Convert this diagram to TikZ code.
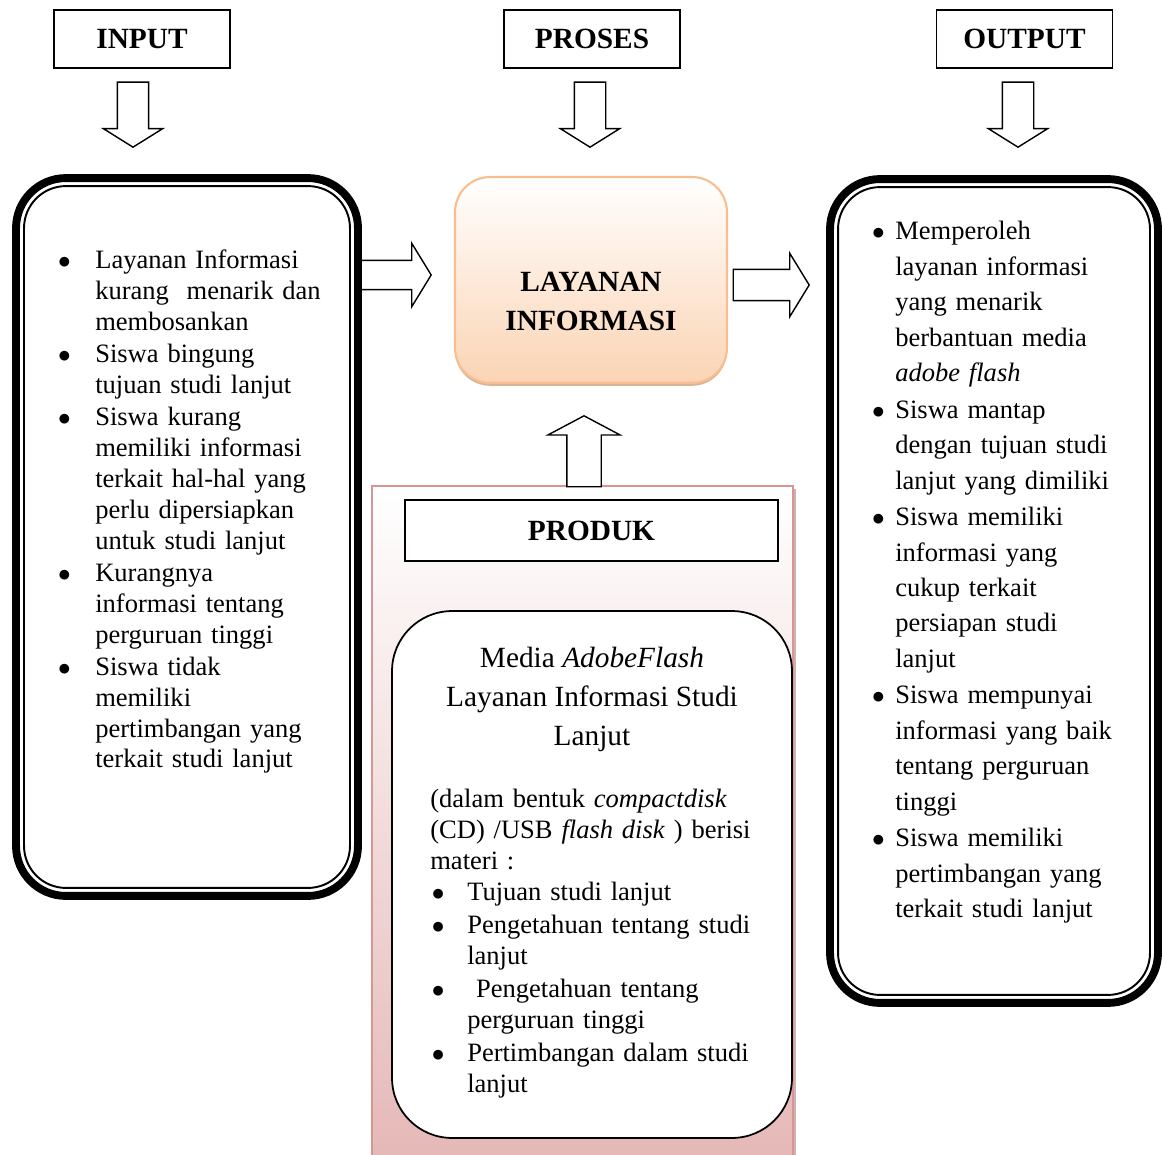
\documentclass[tikz,border=0pt]{standalone}
\usepackage{fontspec}
\setmainfont{Liberation Serif}
\usepackage{enumitem}
\usepackage{tikz}
\usetikzlibrary{shapes.arrows,shadows,positioning}
\definecolor{peach}{HTML}{FBD4B4}
\definecolor{peachline}{HTML}{F9BE8F}
\definecolor{peachshadow}{HTML}{C9A27E}
\definecolor{rose}{HTML}{E5B8B7}
\definecolor{roseline}{HTML}{D99594}
\newlist{pointlist}{itemize}{1}
\setlist[pointlist]{label=$\bullet$,topsep=0pt,partopsep=0pt,parsep=0pt,itemsep=1pt}
\tikzset{
  headbox/.style={draw,line width=0.9pt,minimum width=3.52cm,minimum height=1.16cm,
    font=\fontsize{16.7}{20}\selectfont\bfseries},
  hollow/.style={single arrow,draw,line width=0.8pt,fill=white,anchor=tip},
  framethick/.style={draw,line width=4.5pt,rounded corners=1.0cm},
  framethin/.style={draw,fill=white,line width=1.1pt,rounded corners=0.84cm},
  listtext/.style={anchor=north west,inner sep=0pt,align=left,
    font=\fontsize{15.1}{17.6}\selectfont}
}
\begin{document}
\begin{tikzpicture}[x=0.02cm,y=-0.02cm]
  \useasboundingbox (0,0) rectangle (1162,1155);
  % labels on top
  \node[headbox] (inlbl) at (142,39) {INPUT};
  \node[headbox] (proslbl) at (592,39) {PROSES};
  \node[headbox] (outlbl) at (1024.5,39) {OUTPUT};
  \node[hollow,shape border rotate=270,inner sep=0.3cm,minimum height=1.3cm,
    single arrow head extend=0.28cm,single arrow tip angle=116] (downin) at (133,148) {};
  \node[hollow,shape border rotate=270,inner sep=0.3cm,minimum height=1.3cm,
    single arrow head extend=0.28cm,single arrow tip angle=116] (downpros) at (590,148) {};
  \node[hollow,shape border rotate=270,inner sep=0.3cm,minimum height=1.3cm,
    single arrow head extend=0.28cm,single arrow tip angle=116] (downout) at (1018,148) {};

  % product panel
  \node[draw=roseline,line width=1.1pt,top color=white,bottom color=rose,
    drop shadow={shadow xshift=1.5pt,shadow yshift=-1.5pt,fill=roseline!70!black,opacity=.5},
    minimum width=8.42cm,minimum height=13.48cm] (panel) at (582.5,823) {};
  \node[hollow,shape border rotate=90,inner sep=0.33cm,minimum height=1.42cm,
    single arrow head extend=0.38cm,single arrow tip angle=124] (upprod) at (584,415) {};
  \node[draw,fill=white,line width=0.9pt,minimum width=7.46cm,minimum height=1.22cm,
    font=\fontsize{16.7}{20}\selectfont\bfseries] (produk) at (591.5,530.5) {PRODUK};
  \node[draw,fill=white,line width=1pt,rounded corners=1.2cm,
    minimum width=8.0cm,minimum height=10.54cm] (media) at (592,874.5) {};
  \node[anchor=north,inner sep=0pt,align=center,
    font=\fontsize{16.7}{22.2}\selectfont] (mediatitle) at (592,647)
    {Media \textit{AdobeFlash}\\Layanan Informasi Studi\\Lanjut};
  \node[listtext,text width=7.0cm] (mediatext) at (430,789) {%
    (dalam bentuk \textit{compactdisk}\\(CD) /USB \textit{flash disk} ) berisi\\materi :
    \begin{pointlist}[leftmargin=21pt,labelsep=13pt,itemsep=1.3pt]
      \item Tujuan studi lanjut
      \item Pengetahuan tentang studi\\lanjut
      \item \ Pengetahuan tentang\\perguruan tinggi
      \item Pertimbangan dalam studi\\lanjut
    \end{pointlist}};

  % centre process
  \node[hollow,shape border rotate=0,inner sep=0.28cm,minimum height=1.48cm,
    single arrow head extend=0.34cm,single arrow tip angle=117] (rightin) at (432,275) {};
  \node[hollow,shape border rotate=0,inner sep=0.3cm,minimum height=1.52cm,
    single arrow head extend=0.32cm,single arrow tip angle=117] (rightout) at (810,285) {};
  \node[draw=peachline,line width=1.2pt,rounded corners=0.7cm,top color=white,
    bottom color=peach,
    drop shadow={shadow xshift=0pt,shadow yshift=-1.6pt,fill=peachshadow,opacity=.8},
    minimum width=5.44cm,minimum height=4.12cm] (layanan) at (591,280) {};
  \node[align=center,inner sep=0pt,font=\fontsize{16.7}{22.2}\selectfont\bfseries]
    (layanantxt) at (591,301) {LAYANAN\\INFORMASI};

  % input frame
  \node[framethick,minimum width=6.84cm,minimum height=14.36cm] (inframe) at (187,537) {};
  \node[framethin,minimum width=6.52cm,minimum height=14.04cm] (inbox) at (187,537) {};
  \node[listtext,text width=5.4cm] (intext) at (57,237) {%
    \begin{pointlist}[leftmargin=21.6pt,labelsep=14pt,itemsep=0.7pt]
      \item Layanan Informasi\\kurang\ \ menarik dan\\membosankan
      \item Siswa bingung\\tujuan studi lanjut
      \item Siswa kurang\\memiliki informasi\\terkait hal-hal yang\\perlu dipersiapkan\\untuk studi lanjut
      \item Kurangnya\\informasi tentang\\perguruan tinggi
      \item Siswa tidak\\memiliki\\pertimbangan yang\\terkait studi lanjut
    \end{pointlist}};

  % output frame
  \node[framethick,minimum width=6.56cm,minimum height=16.48cm] (outframe) at (994,591) {};
  \node[framethin,minimum width=6.24cm,minimum height=16.16cm] (outbox) at (994,591) {};
  \node[listtext,text width=5.4cm,font=\fontsize{15.1}{20.2}\selectfont] (outtext) at (870,204) {%
    \begin{pointlist}[leftmargin=14.2pt,labelsep=6pt,itemsep=0.5pt]
      \item Memperoleh\\layanan informasi\\yang menarik\\berbantuan media\\\textit{adobe flash}
      \item Siswa mantap\\dengan tujuan studi\\lanjut yang dimiliki
      \item Siswa memiliki\\informasi yang\\cukup terkait\\persiapan studi\\lanjut
      \item Siswa mempunyai\\informasi yang baik\\tentang perguruan\\tinggi
      \item Siswa memiliki\\pertimbangan yang\\terkait studi lanjut
    \end{pointlist}};
\end{tikzpicture}
\end{document}
